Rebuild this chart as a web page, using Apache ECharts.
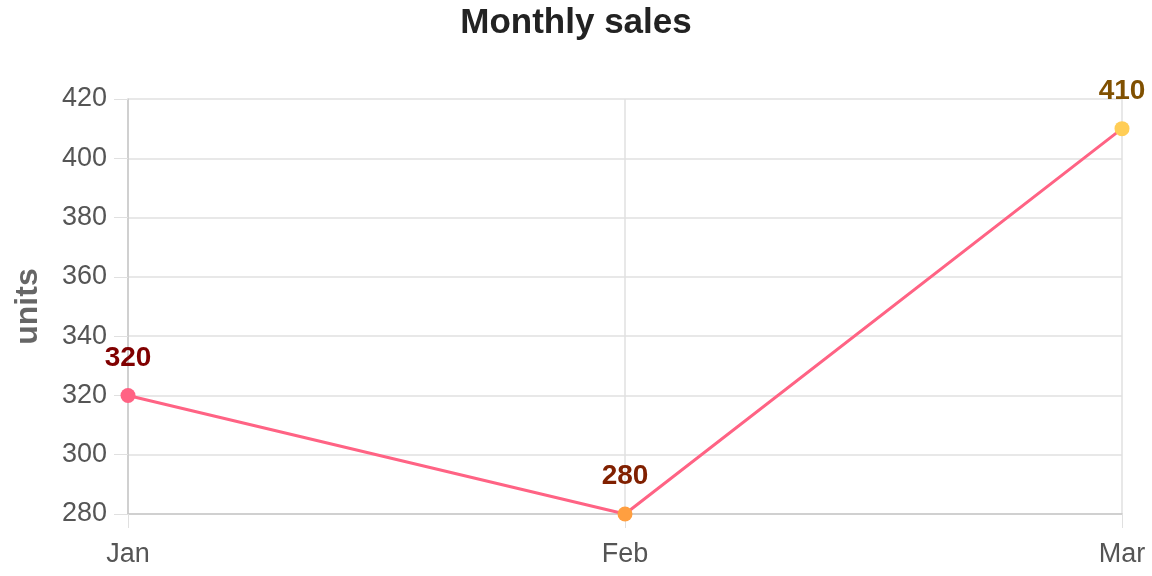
<!DOCTYPE html>
<html>
<head>
<meta charset="utf-8">
<script src="https://cdn.jsdelivr.net/npm/echarts@6/dist/echarts.min.js"></script>
<style>
  html, body { margin: 0; padding: 0; background: #fff; }
  #chart { width: 1152px; height: 576px; }
</style>
</head>
<body>
<div id="chart"></div>
<script>
const months = ["Jan", "Feb", "Mar"];
const sales = [320, 280, 410];
const pointColors = ["#ff6384", "#ff9f40", "#ffcd56"];
const labelColors = ["#800000", "#802000", "#805000"];

let myChart = echarts.init(document.getElementById("chart"));
const font = "Liberation Sans, Arial, Helvetica, sans-serif";

let option = {
  animation: false,
  title: {
    text: "Monthly sales",
    left: "center",
    top: 1,
    textStyle: { fontFamily: font, fontSize: 35, fontWeight: "bold", color: "#222" },
  },
  grid: { left: 128, right: 30, top: 99, bottom: 62 },
  xAxis: {
    type: "category",
    data: months,
    boundaryGap: false,
    axisLine: { lineStyle: { color: "#c8c8c8", width: 1.5 } },
    axisTick: { show: true, length: 14, lineStyle: { color: "#e0e0e0" } },
    axisLabel: { fontFamily: font, fontSize: 27, color: "#555", margin: 27 },
    splitLine: { show: true, lineStyle: { color: "#e0e0e0", width: 1.5 } },
  },
  yAxis: {
    type: "value",
    min: 280,
    max: 420,
    interval: 20,
    name: "units",
    nameLocation: "middle",
    nameGap: 84,
    nameTextStyle: { fontFamily: font, fontSize: 32, fontWeight: "bold", color: "#666" },
    axisLine: { show: true, lineStyle: { color: "#c8c8c8", width: 1.5 } },
    axisTick: { show: true, length: 14, lineStyle: { color: "#e0e0e0" } },
    axisLabel: { fontFamily: font, fontSize: 27, color: "#555", margin: 21 },
    splitLine: { show: true, lineStyle: { color: "#e0e0e0", width: 1.5 } },
  },
  series: [
    {
      type: "line",
      data: sales.map((v, i) => ({
        value: v,
        itemStyle: { color: pointColors[i] },
        label: { color: labelColors[i] },
      })),
      symbol: "circle",
      symbolSize: 15,
      lineStyle: { color: "#ff6384", width: 3 },
      itemStyle: { borderWidth: 0 },
      label: {
        show: true,
        position: "top",
        distance: 16,
        fontFamily: font,
        fontSize: 28,
        fontWeight: "bold",
      },
    },
  ],
};
myChart.setOption(option);
</script>
</body>
</html>
